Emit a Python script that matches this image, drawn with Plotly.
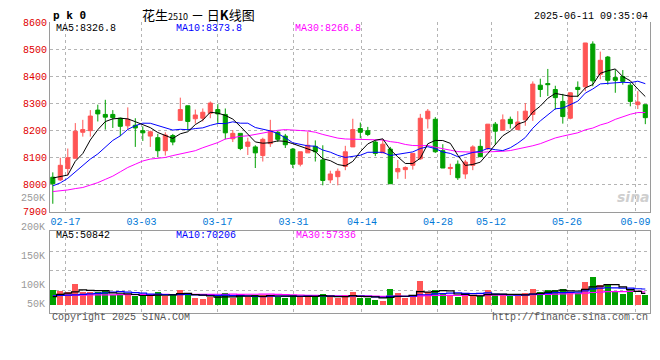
import plotly.graph_objects as go
import pandas as pd

# ---------------- data ----------------
dates = (["02-13", "02-14", "02-17", "02-18", "02-19", "02-20", "02-21", "02-24", "02-25", "02-26", "02-27", "02-28"]
         + ["03-03", "03-04", "03-05", "03-06", "03-07", "03-10", "03-11", "03-12", "03-13", "03-14",
            "03-17", "03-18", "03-19", "03-20", "03-21", "03-24", "03-25", "03-26", "03-27", "03-28", "03-31"]
         + ["04-01", "04-02", "04-03", "04-07", "04-08", "04-09", "04-10", "04-11", "04-14", "04-15", "04-16",
            "04-17", "04-18", "04-21", "04-22", "04-23", "04-24", "04-25", "04-28", "04-29", "04-30"]
         + ["05-06", "05-07", "05-08", "05-09", "05-12", "05-13", "05-14", "05-15", "05-16", "05-19", "05-20",
            "05-21", "05-22", "05-23", "05-26", "05-27", "05-28", "05-29", "05-30"]
         + ["06-03", "06-04", "06-05", "06-06", "06-09", "06-10", "06-11"])

opens = [8028, 8018, 8060, 8098, 8194, 8200, 8276, 8260, 8260, 8246,
         8218, 8220, 8200, 8180, 8174, 8126, 8182, 8238, 8292, 8244,
         8246, 8264, 8278, 8260, 8170, 8190, 8142, 8140, 8108, 8152,
         8194, 8180, 8132, 8076, 8118, 8142, 8092, 8018, 8030, 8068,
         8140, 8208, 8200, 8158, 8118, 8132, 8048, 8056, 8072, 8096,
         8244, 8242, 8126, 8060, 8076, 8040, 8072, 8142, 8134, 8224,
         8202, 8242, 8204, 8240, 8260, 8368, 8374, 8352, 8308, 8246,
         8360, 8362, 8520, 8408, 8472, 8396, 8400, 8368, 8296, 8296]
highs = [8046, 8100, 8134, 8228, 8240, 8276, 8296, 8314, 8276, 8248,
         8286, 8246, 8216, 8200, 8188, 8194, 8188, 8322, 8292, 8278,
         8282, 8308, 8298, 8282, 8202, 8190, 8174, 8146, 8174, 8240,
         8200, 8188, 8136, 8122, 8196, 8164, 8146, 8052, 8060, 8144,
         8244, 8230, 8214, 8164, 8168, 8140, 8092, 8068, 8116, 8262,
         8280, 8250, 8150, 8078, 8090, 8092, 8146, 8168, 8224, 8232,
         8260, 8252, 8272, 8302, 8382, 8392, 8428, 8366, 8336, 8342,
         8382, 8524, 8530, 8492, 8476, 8426, 8424, 8376, 8346, 8296]
lows = [7930, 8014, 8034, 8098, 8178, 8178, 8234, 8204, 8210, 8180,
        8204, 8140, 8162, 8140, 8102, 8108, 8146, 8238, 8200, 8226,
        8234, 8246, 8226, 8168, 8158, 8128, 8110, 8062, 8086, 8140,
        8158, 8136, 8062, 8068, 8118, 8086, 7998, 8006, 7998, 8054,
        8140, 8172, 8180, 8106, 8118, 8004, 8022, 8022, 8056, 8092,
        8208, 8118, 8062, 8036, 8018, 8022, 8054, 8102, 8128, 8148,
        8200, 8208, 8202, 8218, 8236, 8324, 8328, 8278, 8226, 8242,
        8324, 8346, 8364, 8390, 8370, 8340, 8370, 8290, 8280, 8224]
closes = [8004, 8072, 8100, 8198, 8204, 8254, 8262, 8250, 8248, 8216,
          8242, 8210, 8192, 8196, 8126, 8184, 8158, 8278, 8234, 8258,
          8268, 8302, 8262, 8192, 8190, 8134, 8158, 8118, 8168, 8200,
          8168, 8148, 8076, 8122, 8146, 8122, 8016, 8040, 8050, 8122,
          8204, 8194, 8186, 8116, 8150, 8004, 8060, 8064, 8116, 8246,
          8272, 8122, 8062, 8064, 8026, 8084, 8140, 8104, 8224, 8198,
          8240, 8226, 8232, 8272, 8372, 8352, 8370, 8322, 8252, 8340,
          8352, 8524, 8384, 8460, 8386, 8386, 8382, 8308, 8306, 8248]
volumes = [64500, 61800, 57700, 89200, 54900, 55100, 54800, 60400, 41200, 46700,
           42600, 39800, 39900, 41100, 56300, 38400, 48100, 64500, 48000, 30200,
           27500, 33000, 38400, 52200, 30200, 41200, 35700, 41200, 43900, 43900,
           34300, 31600, 43900, 39800, 39800, 34300, 48100, 33000, 30200, 41200,
           56300, 28800, 30200, 23300, 19200, 68700, 52200, 30200, 41200, 101600,
           56300, 64500, 48100, 38400, 34300, 46700, 43900, 37100, 64500, 48100,
           43900, 38400, 38400, 52200, 68700, 56300, 64500, 64500, 68700, 54900,
           53500, 97500, 119500, 85100, 85100, 54900, 48100, 64500, 43900, 43900]

# moving-average values at the start of the window (earlier history not shown)
ma5_head = [8025, 8031, 8036, 8087]
ma10_head = [7996, 8007, 8024, 8048, 8073, 8095, 8114, 8138, 8164]
ma30_head = [7975, 7977, 7981, 7986, 7990, 7999, 8008, 8020, 8032, 8048,
             8064, 8076, 8088, 8095, 8099, 8101, 8108, 8114, 8119, 8126,
             8137, 8146, 8156, 8169, 8175, 8179, 8181, 8186, 8193]
vma5_head = [37200, 46800, 52300, 57800]
vma10_head = [41000, 42000, 43500, 45000, 47000, 49000, 51000, 53000, 56000]
vma30_head = [42000, 42500, 42800, 43500, 43800, 44100, 44600, 45000, 44800, 45300,
              45600, 45400, 45900, 46200, 46000, 46500, 46300, 46700, 46900, 46600,
              47100, 46800, 47200, 47000, 47400, 47100, 47300, 47200, 47400]

tick_dates = ["02-17", "03-03", "03-17", "03-31", "04-14", "04-28", "05-12", "05-26", "06-09"]
price_ticks = [7900, 8000, 8100, 8200, 8300, 8400, 8500, 8600]
vol_label_text = ["250K", "200K", "150K", "100K", "50K"]

title_text = "花生<span style='font-size:9px'>2510</span> － 日<b>K</b>线图"
time_text = "2025-06-11 09:35:04"
ma_price_text = ["MA5:8326.8", "MA10:8373.8", "MA30:8266.8"]
ma_vol_text = ["MA5:50842", "MA10:70206", "MA30:57336"]

# ---------------- derived series ----------------
idx = list(range(len(dates)))
cs = pd.Series(closes, dtype=float)
vs = pd.Series(volumes, dtype=float)


def moving(series, n, head):
    m = series.rolling(n).mean().tolist()
    return head + m[len(head):]


ma5 = moving(cs, 5, ma5_head)
ma10 = moving(cs, 10, ma10_head)
ma30 = moving(cs, 30, ma30_head)
vma5 = moving(vs, 5, vma5_head)
vma10 = moving(vs, 10, vma10_head)
vma30 = moving(vs, 30, vma30_head)

# ---------------- style ----------------
RED = "#FF5555"
GREEN = "#00A000"
MONO = "Liberation Mono, DejaVu Sans Mono, monospace"
CJK = "Noto Sans CJK SC, sans-serif"
GRID = "#b4b4b4"
BORDER = "#9a9a9a"
W, H, L, R = 660, 360, 50, 10
PW = W - L - R

# sina's date grid drifts slightly from the candle slots
tick_idx = [dates.index(d) for d in tick_dates]
tick_pos = [1.693 + (k - 2) * 7.6 / 7.5 for k in tick_idx]
xr = [-0.373, 79.627]

bar_colors = [RED if c >= o else GREEN for o, c in zip(opens, closes)]

fig = go.Figure()
fig.add_trace(go.Candlestick(
    x=idx, open=opens, high=highs, low=lows, close=closes,
    increasing=dict(line=dict(color=RED, width=1), fillcolor=RED),
    decreasing=dict(line=dict(color=GREEN, width=1), fillcolor=GREEN),
    whiskerwidth=0, xaxis="x", yaxis="y", showlegend=False, hoverinfo="skip"))
for vals, col in [(ma30, "#FF00FF"), (ma10, "#0000FF"), (ma5, "#000000")]:
    fig.add_trace(go.Scatter(x=idx, y=vals, mode="lines", line=dict(color=col, width=1),
                             xaxis="x", yaxis="y", showlegend=False, hoverinfo="skip"))

fig.add_trace(go.Bar(x=idx, y=volumes, marker=dict(color=bar_colors, line=dict(width=0)),
                     width=0.8, xaxis="x2", yaxis="y2", showlegend=False, hoverinfo="skip"))
for vals, col in [(vma30, "#FF00FF"), (vma10, "#0000FF"), (vma5, "#000000")]:
    fig.add_trace(go.Scatter(x=idx, y=vals, mode="lines", line=dict(color=col, width=1.2, shape="hvh"),
                             xaxis="x2", yaxis="y2", showlegend=False, hoverinfo="skip"))


def px(x):
    return (x - L) / PW


def py(y):
    return 1 - y / H


ann = []


def text(x, y, t, color="#000", size=10, family=MONO, anchor="left"):
    ann.append(dict(x=px(x), y=py(y), xref="paper", yref="paper", text=t, showarrow=False,
                    xanchor=anchor, yanchor="middle", font=dict(family=family, size=size, color=color)))


text(51, 11, "<b>p k 0</b>", size=11, family="DejaVu Sans Mono")
text(140, 9.5, title_text, size=13, family=CJK)
text(650, 12, time_text, size=10, anchor="right")
for t, x, c in zip(ma_price_text, [54, 174, 293], ["#000000", "#0000FF", "#FF00FF"]):
    text(x, 24.5, t, color=c)
for t, x, c in zip(ma_vol_text, [54, 174, 294], ["#000000", "#0000FF", "#FF00FF"]):
    text(x, 238.5, t, color=c)
for t, y in zip(vol_label_text, [200, 230.5, 260.5, 290.5, 310]):
    text(46.5, y, t, color="#999999", anchor="right", size=10)
text(50, 323.5, "Copyright 2025 SINA.COM", color="#555555")
text(650, 323.5, "http://finance.sina.com.cn", color="#555555", anchor="right")
text(652, 199, "<b><i>sina</i></b>", color="#cfcfcf", size=14, family="DejaVu Sans", anchor="right")

fig.update_layout(
    width=W, height=H, margin=dict(l=L, r=R, t=0, b=0),
    paper_bgcolor="white", plot_bgcolor="white", boxgap=0.22, bargap=0,
    showlegend=False, annotations=ann, hovermode=False,
    xaxis=dict(anchor="y", range=xr, tickvals=tick_pos, ticktext=tick_dates, ticks="",
               tickfont=dict(family=MONO, size=10, color="#0078D7"),
               showgrid=True, gridcolor=GRID, griddash="dot", gridwidth=1,
               showline=True, linecolor=BORDER, linewidth=1, zeroline=False,
               rangeslider=dict(visible=False), fixedrange=True),
    yaxis=dict(domain=[1 - 214 / H, 1 - 18 / H], range=[7900, 8600], tickvals=price_ticks,
               ticktext=[str(v) for v in price_ticks], ticks="",
               tickfont=dict(family=MONO, size=10, color="#E00000"),
               showgrid=True, gridcolor=GRID, griddash="dot", gridwidth=1,
               showline=True, mirror=True, linecolor=BORDER, linewidth=1, zeroline=False),
    xaxis2=dict(anchor="y2", matches="x", range=xr, tickvals=tick_pos, showticklabels=False, ticks="",
                showgrid=True, gridcolor=GRID, griddash="dot", gridwidth=1,
                showline=True, mirror=True, linecolor=BORDER, linewidth=1, zeroline=False),
    yaxis2=dict(domain=[1 - 318.3 / H, 1 - 234 / H], range=[-31300, 316000],
                tickvals=[64700, 147100, 229500], showticklabels=False, ticks="",
                showgrid=True, gridcolor=GRID, griddash="dot", gridwidth=1,
                showline=True, mirror=True, linecolor=BORDER, linewidth=1, zeroline=False),
)

page_js = (
    "var s=document.documentElement.style;s.margin='0';s.padding='0';s.overflow='hidden';s.height='360px';"
    "var b=document.body.style;b.margin='0';b.padding='0';b.overflow='hidden';b.height='360px';"
    "var g=document.getElementById('{plot_id}');g.style.position='absolute';g.style.left='0px';g.style.top='0px';"
)
fig.write_html("out.html", config={"displayModeBar": False}, post_script=page_js)
